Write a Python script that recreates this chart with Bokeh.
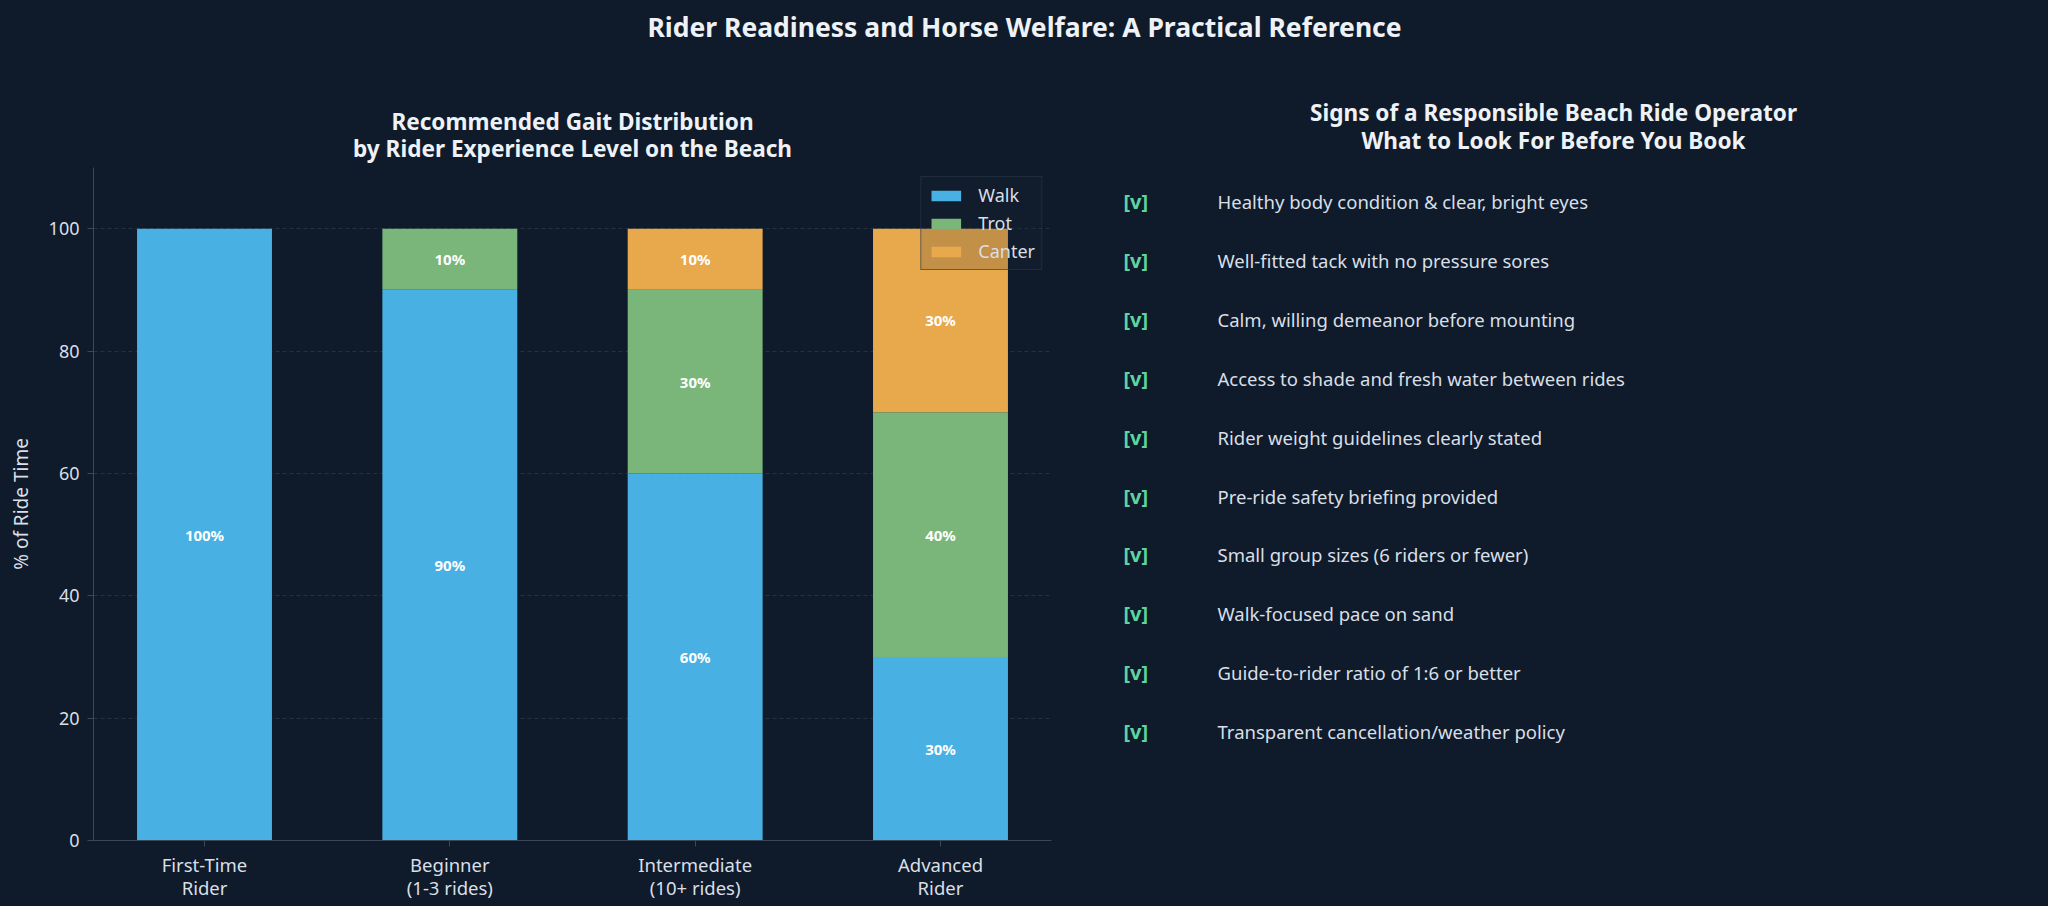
from bokeh.plotting import figure
from bokeh.layouts import column, row
from bokeh.models import ColumnDataSource, Range1d, FixedTicker
from bokeh.core.properties import value
from bokeh.embed import file_html
from bokeh.resources import INLINE

# ---- data ----
levels = ["First-Time\nRider", "Beginner\n(1-3 rides)", "Intermediate\n(10+ rides)", "Advanced\nRider"]
walk = [100, 90, 60, 30]
trot = [0, 10, 30, 40]
canter = [0, 0, 10, 30]
gaits = ["Walk", "Trot", "Canter"]
gait_colors = ["#48b0e2", "#7ab67a", "#e8a84c"]
y_ticks = [0, 20, 40, 60, 80, 100]

checklist = [
    "Healthy body condition & clear, bright eyes",
    "Well-fitted tack with no pressure sores",
    "Calm, willing demeanor before mounting",
    "Access to shade and fresh water between rides",
    "Rider weight guidelines clearly stated",
    "Pre-ride safety briefing provided",
    "Small group sizes (6 riders or fewer)",
    "Walk-focused pace on sand",
    "Guide-to-rider ratio of 1:6 or better",
    "Transparent cancellation/weather policy",
]

main_title = "Rider Readiness and Horse Welfare: A Practical Reference"
left_title = ["Recommended Gait Distribution", "by Rider Experience Level on the Beach"]
right_title = ["Signs of a Responsible Beach Ride Operator", "What to Look For Before You Book"]

# ---- styling ----
BG = "#0f1b2a"
TEXT = "#eef2f6"
SOFT = "#d9dfe6"
AXIS = "#3c4858"
CHECK = "#5fd4a0"
FONT = "Noto Sans"

W, H = 2048, 906
HEAD = 167          # height of the header strip; chart frame starts right below
FRAME_BOTTOM = 840  # page y of the chart baseline
SPLIT = 1090        # page x where the checklist panel starts


def blank(width, height, xr, yr, **kw):
    f = figure(width=width, height=height, x_range=Range1d(*xr), y_range=Range1d(*yr),
               output_backend="svg", toolbar_location=None,
               x_axis_location=None, y_axis_location=None,
               background_fill_color=BG, border_fill_color=BG,
               outline_line_color=None, **kw)
    f.xgrid.visible = False
    f.ygrid.visible = False
    f.styles = {"background-color": BG}
    return f


def label(f, xs_, ys_, texts, size, color=TEXT, bold=False, align="center"):
    f.text(x=xs_, y=ys_, text=texts, text_font=value(FONT), text_font_size=size,
           text_font_style="bold" if bold else "normal", text_color=color,
           text_align=align, text_baseline="middle")


# ---- header strip: page title and panel titles (page pixel coordinates) ----
top = blank(W, HEAD, (0, W), (HEAD, 0), min_border=0)
label(top, [1024], [26], [main_title], "26.5px", bold=True)
label(top, [572, 572], [121, 148], left_title, "22.6px", bold=True)
label(top, [1553, 1553], [112, 140], right_title, "22.6px", bold=True)

# ---- stacked bar chart ----
xs = list(range(len(levels)))
src = ColumnDataSource(dict(x=xs, Walk=walk, Trot=trot, Canter=canter))

left = figure(width=SPLIT, height=H - HEAD, x_range=Range1d(-0.4525, 3.4525), y_range=Range1d(0, 110),
              output_backend="svg", toolbar_location=None,
              min_border_left=93, min_border_right=39, min_border_top=0,
              min_border_bottom=H - FRAME_BOTTOM,
              background_fill_color=BG, border_fill_color=BG, outline_line_color=None)
left.styles = {"background-color": BG}

left.vbar_stack(gaits, x="x", width=0.55, color=gait_colors, line_color=None, source=src,
                legend_label=gaits)

# value labels centred in each non-empty segment
lx, ly, lt = [], [], []
for i in xs:
    base = 0
    for series in (walk, trot, canter):
        v = series[i]
        if v > 0:
            lx.append(i)
            ly.append(base + v / 2)
            lt.append(f"{v}%")
        base += v
label(left, lx, ly, lt, "15px", color="white", bold=True)

left.xgrid.visible = False
left.ygrid.ticker = FixedTicker(ticks=y_ticks[1:])
left.ygrid.grid_line_color = "#243141"
left.ygrid.grid_line_dash = "4 3"
left.ygrid.grid_line_width = 1

ya = left.yaxis[0]
ya.ticker = FixedTicker(ticks=y_ticks)
ya.axis_label = "% of Ride Time"
ya.axis_label_text_font = FONT
ya.axis_label_text_font_size = "19px"
ya.axis_label_text_font_style = "normal"
ya.axis_label_text_color = SOFT
ya.axis_label_standoff = 12
ya.major_label_text_font = FONT
ya.major_label_text_font_size = "18px"
ya.major_label_text_color = SOFT
ya.major_label_standoff = 8
ya.axis_line_color = AXIS
ya.major_tick_line_color = AXIS
ya.major_tick_out = 6
ya.major_tick_in = 0
ya.minor_tick_line_color = None

xa = left.xaxis[0]
xa.ticker = FixedTicker(ticks=xs)
xa.major_label_overrides = {i: lab for i, lab in zip(xs, levels)}
xa.major_label_text_font = FONT
xa.major_label_text_font_size = "18.5px"
xa.major_label_text_line_height = 0.92
xa.major_label_text_color = SOFT
xa.major_label_standoff = 5
xa.axis_line_color = AXIS
xa.major_tick_line_color = AXIS
xa.major_tick_out = 6
xa.major_tick_in = 0
xa.minor_tick_line_color = None

lg = left.legend[0]
lg.location = "top_right"
lg.margin = 9
lg.padding = 6
lg.spacing = 4
lg.glyph_width = 37
lg.glyph_height = 13
lg.label_height = 20
lg.label_standoff = 14
lg.label_text_font = FONT
lg.label_text_font_size = "18px"
lg.label_text_color = SOFT
lg.background_fill_color = "#1a2636"
lg.background_fill_alpha = 0.18
lg.border_line_color = "#2a3748"
lg.border_line_alpha = 0.6

# ---- checklist panel: frame spans the same rows as the chart frame ----
right = blank(W - SPLIT, H - HEAD, (SPLIT, W), (FRAME_BOTTOM, HEAD),
              min_border_left=0, min_border_right=0, min_border_top=0,
              min_border_bottom=H - FRAME_BOTTOM)
row_y = [201 + 58.9 * i for i in range(len(checklist))]
label(right, [1123] * len(checklist), row_y, ["[v]"] * len(checklist), "20px", color=CHECK,
      bold=True, align="left")
label(right, [1217] * len(checklist), row_y, checklist, "18.5px", color=SOFT, align="left")

body = row(left, right)
body.styles = {"background-color": BG}
page = column(top, body)
page.styles = {"background-color": BG}
open("out.html", "w").write(file_html(page, INLINE))
